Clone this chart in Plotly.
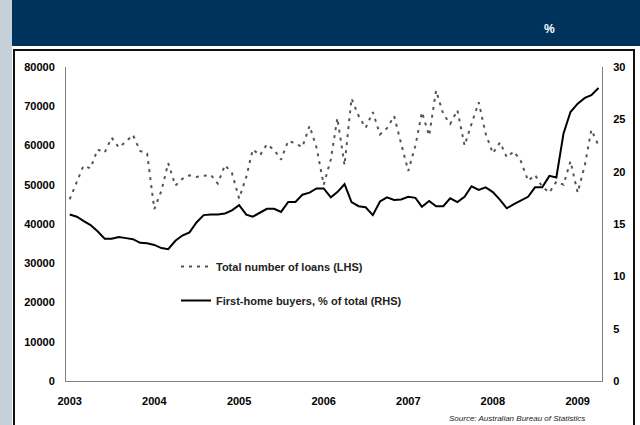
import pandas as pd
import plotly.graph_objects as go

# Monthly series, Jan 2003 - Apr 2009
months = pd.date_range("2003-01-01", periods=76, freq="MS")

total_loans = [
    46300, 50700, 54800, 54200, 59000, 58200, 62000, 59500, 61000, 62700, 58600, 58000,  # 2003
    43800, 48500, 55500, 49800, 51500, 52400, 52000, 52300, 52500, 50300, 55000, 53000,  # 2004
    46500, 52000, 59000, 57500, 60300, 58900, 56400, 61200, 60500, 59600, 65000, 59500,  # 2005
    50000, 56500, 67000, 55000, 72000, 67500, 64500, 68500, 62800, 64400, 67500, 60500,  # 2006
    53500, 60000, 68500, 62500, 74000, 68000, 65500, 69000, 60000, 65500, 71000, 63000,  # 2007
    58000, 60800, 57000, 58500, 56000, 51000, 52500, 49500, 48000, 50800, 50000, 56000,  # 2008
    48000, 55000, 64000, 60000,                                                          # 2009
]

first_home_share = [
    15.9, 15.7, 15.3, 14.9, 14.3, 13.6, 13.6, 13.75, 13.65, 13.55, 13.2, 13.15,         # 2003
    13.0, 12.7, 12.6, 13.4, 13.9, 14.2, 15.15, 15.85, 15.9, 15.9, 16.0, 16.3,           # 2004
    16.8, 15.9, 15.7, 16.1, 16.45, 16.45, 16.15, 17.1, 17.1, 17.8, 18.0, 18.4,          # 2005
    18.4, 17.55, 18.05, 18.8, 17.1, 16.7, 16.6, 15.85, 17.15, 17.55, 17.3, 17.35,       # 2006
    17.6, 17.5, 16.65, 17.2, 16.7, 16.7, 17.45, 17.1, 17.6, 18.6, 18.25, 18.5,          # 2007
    18.05, 17.3, 16.5, 16.9, 17.25, 17.6, 18.5, 18.5, 19.6, 19.45, 23.65, 25.7,         # 2008
    26.5, 27.05, 27.3, 28.0,                                                             # 2009
]

year_ticks = pd.date_range("2003-01-01", periods=7, freq="YS")
year_labels = [str(d.year) for d in year_ticks]

left_ticks = [0, 10000, 20000, 30000, 40000, 50000, 60000, 70000, 80000]
right_ticks = [0, 5, 10, 15, 20, 25, 30]

W, H = 640, 425
FONT = "Arial, Liberation Sans, sans-serif"
NAVY = "#00335C"
AXIS = "#7f7f7f"

fig = go.Figure()

fig.add_trace(go.Scatter(
    x=months, y=total_loans, name="Total number of loans (LHS)",
    mode="lines", line=dict(color="#555555", width=2, dash="3px,5px"),
    yaxis="y", legendgroup="a",
))
fig.add_trace(go.Scatter(
    x=months, y=first_home_share, name="First-home buyers, % of total (RHS)",
    mode="lines", line=dict(color="#000000", width=2),
    yaxis="y2", legendgroup="b",
))

# plot frame in pixels
px_l, px_r, px_t, px_b = 66, 602, 67, 381

tick_font = dict(family=FONT, size=11, weight="bold", color="#000000")

fig.update_layout(
    width=W, height=H,
    margin=dict(l=0, r=0, t=0, b=0, autoexpand=False),
    paper_bgcolor="white", plot_bgcolor="white",
    font=dict(family=FONT, size=11, color="#000000"),
    showlegend=True,
    legend=dict(
        x=176 / W, y=1 - 252 / H, xanchor="left", yanchor="top",
        bgcolor="rgba(0,0,0,0)", traceorder="grouped", tracegroupgap=15,
        font=dict(family=FONT, size=11, color="#222222", weight="bold"),
    ),
    xaxis=dict(
        type="date", domain=[px_l / W, px_r / W], automargin=False,
        range=["2002-12-16", "2009-04-16"],
        tickvals=list(year_ticks), ticktext=year_labels,
        showgrid=False, zeroline=False, showline=True, linecolor=AXIS, linewidth=1,
        ticks="", ticklabelstandoff=10, tickfont=tick_font,
    ),
    yaxis=dict(
        domain=[1 - px_b / H, 1 - px_t / H], range=[0, 80000], automargin=False,
        tickvals=left_ticks, ticktext=[str(v) for v in left_ticks],
        showgrid=False, zeroline=False, showline=True, linecolor=AXIS, linewidth=1,
        ticks="", ticklabelstandoff=8, tickfont=tick_font,
    ),
    yaxis2=dict(
        overlaying="y", side="right", anchor="x", range=[0, 30], automargin=False,
        tickvals=right_ticks, ticktext=[str(v) for v in right_ticks],
        showgrid=False, zeroline=False, showline=True, linecolor=AXIS, linewidth=1,
        ticks="", ticklabelstandoff=8, tickfont=tick_font,
    ),
    shapes=[
        # left strip
        dict(type="rect", xref="paper", yref="paper", x0=0, x1=12 / W, y0=0, y1=1,
             fillcolor="#C5D0D9", line_width=0, layer="below"),
        # header band
        dict(type="rect", xref="paper", yref="paper", x0=12 / W, x1=1, y0=1 - 46 / H, y1=1,
             fillcolor=NAVY, line_width=0, layer="below"),
        # chart panel border
        dict(type="rect", xref="paper", yref="paper", x0=14 / W, x1=634 / W, y0=-0.05, y1=1 - 50 / H,
             fillcolor="rgba(0,0,0,0)", line=dict(color="#111111", width=2), layer="below"),
    ],
    annotations=[
        dict(text="<b>%</b>", xref="paper", yref="paper", x=557 / W, y=1 - 20 / H,
             showarrow=False, font=dict(family=FONT, size=12, color="white")),
        dict(text="<i>Source: Australian Bureau of Statistics</i>", xref="paper", yref="paper",
             x=587 / W, y=1 - 418 / H, xanchor="right", yanchor="middle", showarrow=False,
             font=dict(family=FONT, size=8, color="#222222")),
    ],
)

fig.write_html("out.html")
